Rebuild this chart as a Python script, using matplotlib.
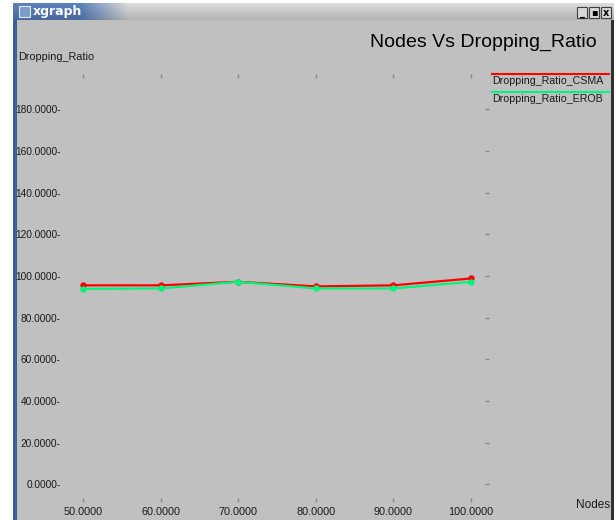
import numpy as np
import matplotlib.pyplot as plt
from matplotlib.patches import Rectangle
from matplotlib.lines import Line2D

W, H = 616, 520

nodes = [50, 60, 70, 80, 90, 100]
ratio_csma = [95.5, 95.5, 97.2, 95.0, 95.5, 98.8]
ratio_erob = [93.8, 94.0, 97.2, 94.0, 94.0, 97.2]
y_ticks = [0, 20, 40, 60, 80, 100, 120, 140, 160, 180]

plt.rcParams['font.family'] = ['Liberation Sans', 'DejaVu Sans']

def fx(x):
    return x / W

def fy(y):
    return 1 - y / H

fig = plt.figure(figsize=(W / 100, H / 100), dpi=100, facecolor='white')

# window body and borders, kept behind the axes
fig.patches.append(Rectangle((fx(13), 0), fx(601), fy(3), transform=fig.transFigure,
                             facecolor='#c0c0c0', edgecolor='none', zorder=-10))
fig.patches.append(Rectangle((fx(13), 0), fx(4), fy(3), transform=fig.transFigure,
                             facecolor='#3f5f92', edgecolor='none', zorder=-5))
fig.patches.append(Rectangle((fx(611), 0), fx(3), fy(20), transform=fig.transFigure,
                             facecolor='#303030', edgecolor='none', zorder=-5))

# title bar gradient
tb = fig.add_axes([fx(13), fy(20), fx(601), (20 - 3) / H])
tb.axis('off')
xs = np.linspace(0, 1, 300)
mix = np.clip((xs - 0.11) / 0.08, 0, 1)
blue = np.array([0.33, 0.47, 0.69])
grey = np.array([0.80, 0.80, 0.80])
row = (1 - mix)[:, None] * blue + mix[:, None] * grey
shade = np.linspace(1.08, 0.88, 17)[:, None, None]
img = np.clip(row[None, :, :] * shade, 0, 1)
tb.imshow(img, aspect='auto', extent=[0, 1, 0, 1])
tb.set_xlim(0, 1)
tb.set_ylim(0, 1)

fig.patches.append(Rectangle((fx(19), fy(17)), fx(11), 11 / H, transform=fig.transFigure,
                             facecolor='#7d9cc8', edgecolor='#dfe8f5', linewidth=0.8))
fig.text(fx(33), fy(11.5), 'xgraph', color='white', fontsize=9, fontweight='bold',
         family=['DejaVu Sans'], va='center', ha='left')
for bx, glyph in zip([577, 589, 601], ['_', '▪', 'x']):
    fig.patches.append(Rectangle((fx(bx), fy(18)), fx(10), 11 / H, transform=fig.transFigure,
                                 facecolor='#d8d8d8', edgecolor='#404040', linewidth=0.8))
    fig.text(fx(bx + 5), fy(12.5), glyph, fontsize=7, fontweight='bold', color='black',
             family=['DejaVu Sans'], ha='center', va='center')

# plot area
y0, y180 = 484.3, 109.3
ax = fig.add_axes([fx(83), fy(y0), fx(471 - 83), (y0 - y180) / H])
ax.set_facecolor('none')
for s in ax.spines.values():
    s.set_visible(False)
ax.set_xlim(50, 100)
ax.set_ylim(0, 180)

ax.set_yticks(y_ticks)
ax.set_yticklabels(['%.4f-' % v for v in y_ticks], fontsize=7.3, color='#1a1a1a')
ax.tick_params(axis='y', length=0, pad=16)
ax.set_xticks(nodes)
ax.set_xticklabels(['%.4f' % v for v in nodes], fontsize=7.8, color='#1a1a1a')
ax.tick_params(axis='x', length=0, pad=16)

# small grid marks around the plot area
ax.plot(nodes, [196] * len(nodes), linestyle='none', marker='|', markersize=2.5,
        color='#8a8a8a', clip_on=False)
ax.plot(nodes, [-7.5] * len(nodes), linestyle='none', marker='|', markersize=2.5,
        color='#8a8a8a', clip_on=False)
ax.plot([102.1] * len(y_ticks), y_ticks, linestyle='none', marker='_', markersize=3,
        color='#8a8a8a', clip_on=False)

ax.plot(nodes, ratio_csma, color='#ff0000', linewidth=1.6, marker='o', markersize=3.6,
        clip_on=False, zorder=3)
ax.plot(nodes, ratio_erob, color='#00f57a', linewidth=1.6, marker='o', markersize=3.6,
        clip_on=False, zorder=3)

fig.text(fx(597), fy(42), 'Nodes Vs Dropping_Ratio', fontsize=14, color='black',
         ha='right', va='center')
fig.text(fx(18), fy(57), 'Dropping_Ratio', fontsize=7.8, color='#1a1a1a',
         ha='left', va='center')
fig.text(fx(610), fy(505), 'Nodes', fontsize=8.5, color='#1a1a1a', ha='right', va='center')

# legend
fig.lines.append(Line2D([fx(492), fx(609)], [fy(74.3)] * 2, transform=fig.transFigure,
                        color='#ff0000', linewidth=1.5))
fig.text(fx(492), fy(81.5), 'Dropping_Ratio_CSMA', fontsize=7.7, color='#1a1a1a',
         ha='left', va='center')
fig.lines.append(Line2D([fx(492), fx(609)], [fy(92)] * 2, transform=fig.transFigure,
                        color='#00f57a', linewidth=1.5))
fig.text(fx(492), fy(99), 'Dropping_Ratio_EROB', fontsize=7.7, color='#1a1a1a',
         ha='left', va='center')

fig.savefig('out.png', dpi=100, facecolor=fig.get_facecolor())
